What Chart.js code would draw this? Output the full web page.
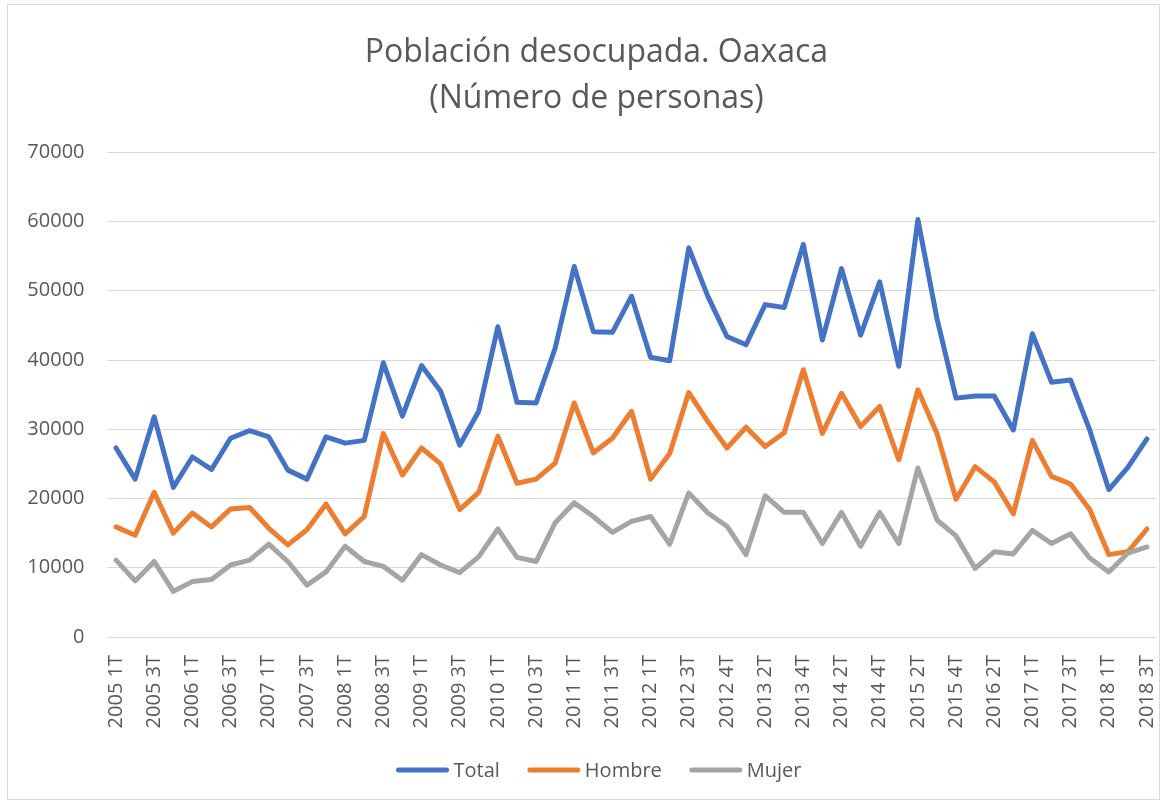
<!DOCTYPE html>
<html><head><meta charset="utf-8">
<script src="https://cdn.jsdelivr.net/npm/chart.js@4"></script>
<style>html,body{margin:0;padding:0;background:#fff}#wrap{position:relative;width:1166px;height:805px}</style>
</head><body><div id="wrap"><canvas id="c" width="1166" height="805"></canvas></div>
<script>
const categories = [
 "2005 1T","2005 2T","2005 3T","2005 4T","2006 1T","2006 2T","2006 3T","2006 4T",
 "2007 1T","2007 2T","2007 3T","2007 4T","2008 1T","2008 2T","2008 3T","2008 4T",
 "2009 1T","2009 2T","2009 3T","2009 4T","2010 1T","2010 2T","2010 3T","2010 4T",
 "2011 1T","2011 2T","2011 3T","2011 4T","2012 1T","2012 2T","2012 3T","2012 4T",
 "2012 4T","2013 1T","2013 2T","2013 3T","2013 4T","2014 1T","2014 2T","2014 3T",
 "2014 4T","2015 1T","2015 2T","2015 3T","2015 4T","2016 1T","2016 2T","2016 3T",
 "2017 1T","2017 2T","2017 3T","2017 4T","2018 1T","2018 2T","2018 3T"];
const total = [27300,22800,31800,21600,26000,24200,28700,29800,28900,24100,22800,28900,28000,28400,
 39600,31900,39200,35500,27700,32600,44800,33900,33800,41700,53500,44100,44000,49200,
 40400,39900,56200,49200,43400,42200,48000,47600,56700,42900,53200,43600,51300,39100,
 60300,46000,34500,34800,34800,29900,43800,36800,37100,29900,21300,24500,28600];
const hombre = [15900,14700,20900,15000,17900,15900,18500,18700,15700,13300,15500,19200,14900,17400,
 29400,23400,27300,25000,18400,20900,29000,22200,22800,25100,33800,26600,28700,32600,
 22800,26500,35300,31100,27300,30300,27500,29500,38600,29400,35200,30400,33300,25600,
 35700,29400,19900,24600,22400,17800,28400,23200,22100,18400,11900,12300,15600];
const mujer = [11100,8100,10900,6600,8000,8300,10400,11100,13400,10900,7500,9400,13100,10900,
 10200,8200,11900,10400,9300,11600,15600,11500,10900,16500,19400,17400,15100,16700,
 17400,13400,20800,17900,16000,11900,20400,18000,18000,13500,18000,13100,18000,13500,
 24400,16900,14600,9900,12300,12000,15400,13500,14900,11400,9400,12100,13000];
const seriesNames = ["Total","Hombre","Mujer"];
const yTickValues = [0,10000,20000,30000,40000,50000,60000,70000];
const titleLines = ["Población desocupada. Oaxaca","(Número de personas)"];

const FONT = "'Open Sans', 'Liberation Sans', sans-serif";
const TXT = '#595959';

const frame = {
  id:'frame',
  beforeDraw(chart){
    const ctx = chart.ctx;
    ctx.save();
    ctx.fillStyle = '#fff';
    ctx.fillRect(0,0,chart.width,chart.height);
    ctx.strokeStyle = '#D9D9D9';
    ctx.lineWidth = 1;
    ctx.strokeRect(7.5,4.5,1152,795);
    ctx.restore();
  },
  afterDraw(chart){
    const ctx = chart.ctx;
    ctx.save();
    // title
    ctx.fillStyle = TXT;
    ctx.font = "32px " + FONT;
    ctx.textAlign = 'center';
    ctx.textBaseline = 'alphabetic';
    ctx.fillText(titleLines[0], 596.5, 62);
    ctx.fillText(titleLines[1], 596.5, 108);
    // legend (from dataset labels/colours)
    ctx.font = "20px " + FONT;
    const lineLen = 52, gap = 5, spacing = 28, cy = 770;
    const items = chart.data.datasets.map(d=>({label:d.label,color:d.borderColor,w:ctx.measureText(d.label).width}));
    const totalW = items.reduce((s,it)=>s+lineLen+gap+it.w,0) + spacing*(items.length-1);
    let x = 599 - totalW/2;
    ctx.textAlign = 'left';
    ctx.textBaseline = 'middle';
    items.forEach(it=>{
      ctx.strokeStyle = it.color;
      ctx.lineWidth = 5;
      ctx.lineCap = 'round';
      ctx.beginPath();
      ctx.moveTo(x+2, cy);
      ctx.lineTo(x+lineLen-2, cy);
      ctx.stroke();
      ctx.fillStyle = TXT;
      ctx.fillText(it.label, x+lineLen+gap, cy+1);
      x += lineLen+gap+it.w+spacing;
    });
    ctx.restore();
  }
};

new Chart(document.getElementById('c'), {
  type:'line',
  data:{
    labels: categories,
    datasets:[
      {label:seriesNames[0], data: total, borderColor:'#4472C4', backgroundColor:'#4472C4', order:3},
      {label:seriesNames[1], data: hombre, borderColor:'#ED7D31', backgroundColor:'#ED7D31', order:2},
      {label:seriesNames[2], data: mujer, borderColor:'#A5A5A5', backgroundColor:'#A5A5A5', order:1}
    ]
  },
  options:{
    responsive:false,
    devicePixelRatio:1,
    animation:false,
    layout:{padding:{left:0,right:9.5,top:152.3,bottom:55}},
    elements:{
      line:{borderWidth:5,tension:0,borderJoinStyle:'round',borderCapStyle:'round',fill:false},
      point:{radius:0,hoverRadius:0}
    },
    plugins:{
      title:{display:false},
      legend:{display:false},
      tooltip:{enabled:false}
    },
    scales:{
      x:{
        offset:true,
        grid:{display:false,drawTicks:false},
        border:{display:false},
        ticks:{autoSkip:false,minRotation:90,maxRotation:90,padding:18,color:TXT,
          font:{family:FONT,size:20},
          callback:(v,i)=> i%2===0 ? categories[i] : null},
        afterFit:(s)=>{s.height=113; s.paddingLeft=0; s.paddingRight=0;}
      },
      y:{
        min:0,max:70000,
        afterBuildTicks:(s)=>{s.ticks = yTickValues.map(v=>({value:v}));},
        grid:{color:'#D9D9D9',lineWidth:1,drawTicks:false},
        border:{display:false},
        ticks:{padding:22,color:TXT,font:{family:FONT,size:20},callback:(v)=>String(v)},
        afterFit:(s)=>{s.width=106.5; s.paddingTop=0; s.paddingBottom=0;}
      }
    }
  },
  plugins:[frame]
});
</script></body></html>
